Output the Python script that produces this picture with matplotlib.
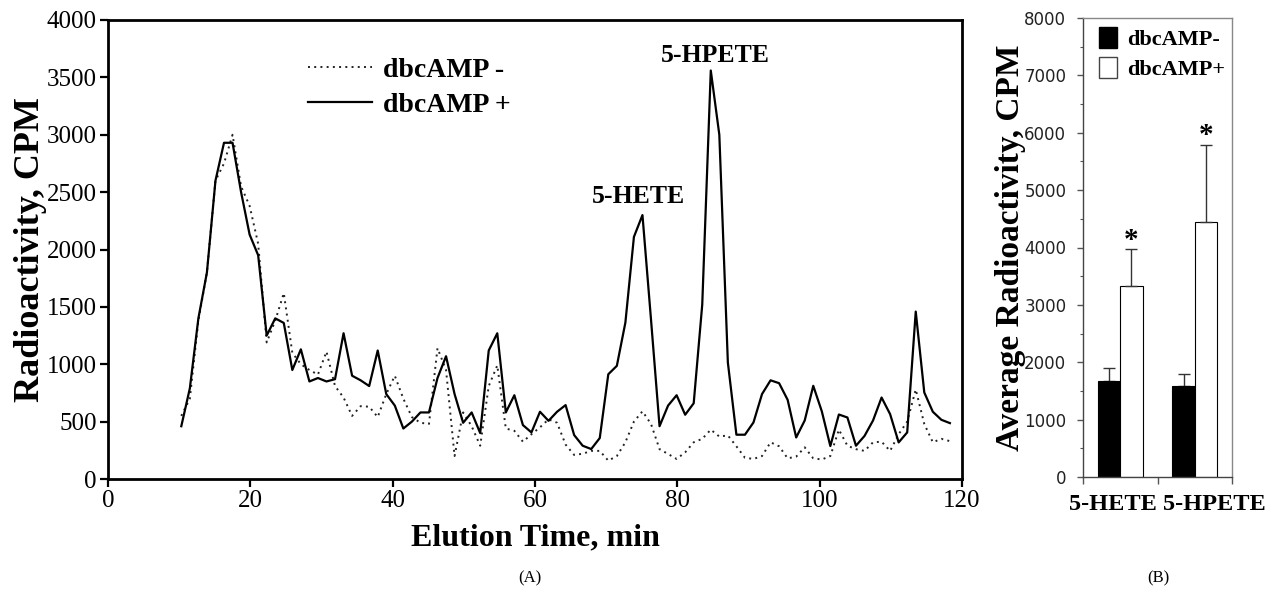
import matplotlib
matplotlib.use("Agg")
import matplotlib.pyplot as plt
from matplotlib.patches import Patch

# ---------------- data ----------------
elution_time = [10.3, 11.5, 12.7, 13.9, 15.1, 16.3, 17.5, 18.7, 19.9, 21.1,
                22.3, 23.5, 24.7, 25.9, 27.1, 28.3, 29.5, 30.7, 31.9, 33.1,
                34.3, 35.5, 36.7, 37.9, 39.1, 40.3, 41.5, 42.7, 43.9, 45.1,
                46.3, 47.5, 48.7, 49.9, 51.1, 52.3, 53.5, 54.7, 55.9, 57.1,
                58.3, 59.5, 60.7, 61.9, 63.1, 64.3, 65.5, 66.7, 67.9, 69.1,
                70.3, 71.5, 72.7, 73.9, 75.1, 76.3, 77.5, 78.7, 79.9, 81.1,
                82.3, 83.5, 84.7, 85.9, 87.1, 88.3, 89.5, 90.7, 91.9, 93.1,
                94.3, 95.5, 96.7, 97.9, 99.1, 100.3, 101.5, 102.7, 103.9, 105.1,
                106.3, 107.5, 108.7, 109.9, 111.1, 112.3, 113.5, 114.7, 115.9, 117.1,
                118.3]

cpm_plus = [460, 790, 1400, 1800, 2600, 2930, 2930, 2500, 2130, 1950,
            1250, 1400, 1360, 950, 1130, 850, 880, 850, 870, 1270,
            900, 860, 810, 1120, 740, 640, 440, 500, 580, 580,
            880, 1070, 740, 490, 580, 400, 1120, 1270, 580, 730,
            470, 406, 586, 507, 586, 644, 383, 290, 261, 357,
            913, 986, 1363, 2110, 2300, 1390, 460, 640, 730, 560,
            660, 1520, 3560, 3000, 1015, 386, 386, 493, 740, 860,
            835, 690, 362, 510, 812, 590, 287, 562, 536, 290,
            375, 510, 710, 565, 319, 406, 1459, 754, 586, 516,
            487]

cpm_minus = [550, 700, 1380, 1800, 2600, 2750, 3000, 2550, 2380, 2050,
             1190, 1380, 1620, 1100, 1000, 950, 910, 1110, 810, 710,
             550, 635, 630, 540, 740, 900, 700, 540, 490, 480,
             1140, 950, 200, 580, 460, 290, 810, 990, 440, 420,
             325, 390, 450, 520, 490, 300, 210, 220, 245, 245,
             160, 200, 320, 500, 590, 480, 260, 218, 175, 232,
             320, 350, 430, 370, 380, 285, 185, 175, 200, 320,
             285, 180, 195, 276, 180, 170, 200, 430, 290, 260,
             245, 320, 325, 245, 390, 500, 780, 480, 320, 350,
             330]

bar_categories = ["5-HETE", "5-HPETE"]
avg_minus = [1680, 1580]
err_minus = [220, 220]
avg_plus = [3330, 4450]
err_plus = [640, 1340]

left_yticks = [0, 500, 1000, 1500, 2000, 2500, 3000, 3500, 4000]
left_xticks = [0, 20, 40, 60, 80, 100, 120]
right_yticks = [0, 1000, 2000, 3000, 4000, 5000, 6000, 7000, 8000]

SERIF = ["Liberation Serif", "DejaVu Serif"]

W, H = 1266, 589
fig = plt.figure(figsize=(W / 100, H / 100), dpi=100)
fig.patch.set_facecolor("white")


def ax_rect(x0, x1, ytop, ybot):
    return [x0 / W, 1 - ybot / H, (x1 - x0) / W, (ybot - ytop) / H]


# ---------------- panel A ----------------
axA = fig.add_axes(ax_rect(108, 962, 20, 479))
axA.plot(elution_time, cpm_minus, color="#222222", lw=1.4,
         linestyle=(0, (1, 2.2)), label="dbcAMP -")
axA.plot(elution_time, cpm_plus, color="black", lw=1.6, label="dbcAMP +")
axA.set_xlim(0, 120)
axA.set_ylim(0, 4000)
axA.set_xticks(left_xticks)
axA.set_yticks(left_yticks)
for sp in axA.spines.values():
    sp.set_linewidth(2.0)
axA.tick_params(axis="both", direction="out", length=6, width=1.6,
                labelsize=18, pad=2)
for lab in axA.get_xticklabels() + axA.get_yticklabels():
    lab.set_fontfamily(SERIF)
axA.set_xlabel("Elution Time, min", fontfamily=SERIF, fontweight="bold",
               fontsize=23, labelpad=8)
axA.set_ylabel("Radioactivity, CPM", fontfamily=SERIF, fontweight="bold",
               fontsize=26)
axA.yaxis.set_label_coords(-0.072, 0.5)

axA.legend(loc="upper left", bbox_to_anchor=(0.205, 0.973),
           frameon=False, handlelength=2.3, handletextpad=0.4,
           labelspacing=0.35,
           prop={"family": SERIF, "weight": "bold", "size": 20})

axA.text(74.5, 2460, "5-HETE", ha="center", va="center", fontfamily=SERIF,
         fontweight="bold", fontsize=18.5)
axA.text(85.3, 3690, "5-HPETE", ha="center", va="center", fontfamily=SERIF,
         fontweight="bold", fontsize=18.5)

fig.text(530 / W, 1 - 578 / H, "(A)", ha="center", va="center",
         fontfamily=SERIF, fontsize=12)

# ---------------- panel B ----------------
axB = fig.add_axes(ax_rect(1083, 1232, 18, 477))
xpos = [0, 1]
bw = 0.3
xb_minus = [x - bw / 2 for x in xpos]
xb_plus = [x + bw / 2 for x in xpos]
axB.bar(xb_minus, avg_minus, width=bw, color="black", edgecolor="black",
        linewidth=0.8, zorder=2)
axB.bar(xb_plus, avg_plus, width=bw, color="white", edgecolor="black",
        linewidth=0.8, zorder=2)
axB.errorbar(xb_minus, avg_minus, yerr=[[0, 0], err_minus], fmt="none",
             ecolor="#333333", elinewidth=1.0, capsize=4, capthick=1.0, zorder=1)
axB.errorbar(xb_plus, avg_plus, yerr=[[0, 0], err_plus], fmt="none",
             ecolor="#333333", elinewidth=1.0, capsize=4, capthick=1.0, zorder=3)
for xp, v, e in zip(xb_plus, avg_plus, err_plus):
    axB.text(xp, v + e - 80, "*", ha="center", va="bottom", fontfamily=SERIF,
             fontweight="bold", fontsize=21)

axB.set_xlim(-0.5, 1.5)
axB.set_ylim(0, 8000)
axB.set_yticks(right_yticks)
axB.set_yticks([500, 1500, 2500, 3500, 4500, 5500, 6500, 7500], minor=True)
axB.set_xticks([-0.5, 0.5, 1.5])
axB.set_xticklabels(["", "", ""])
axB.set_xticks([-0.1, 1.27], minor=True)
axB.set_xticklabels(bar_categories, minor=True, fontfamily=SERIF,
                    fontweight="bold", fontsize=17.5)
axB.tick_params(axis="x", which="major", direction="out", length=5,
                width=1.0, color="#555555")
axB.tick_params(axis="x", which="minor", length=0, pad=12)
axB.tick_params(axis="y", which="major", direction="out", length=4,
                width=1.0, labelsize=12, labelcolor="#222222", pad=8,
                color="#555555")
axB.tick_params(axis="y", which="minor", direction="out", length=2.5,
                width=0.8, color="#555555")
for lab in axB.get_yticklabels():
    lab.set_fontfamily("DejaVu Sans")
for name, sp in axB.spines.items():
    sp.set_linewidth(1.0)
    sp.set_color("#444444" if name in ("left", "bottom") else "#888888")
axB.set_ylabel("Average Radioactivity, CPM", fontfamily=SERIF,
               fontweight="bold", fontsize=24)
axB.yaxis.set_label_coords(-0.38, 0.5)

handlesB = [Patch(facecolor="black", edgecolor="black"),
            Patch(facecolor="white", edgecolor="#444444")]
axB.legend(handlesB, ["dbcAMP-", "dbcAMP+"], loc="upper left",
           bbox_to_anchor=(0.0, 1.015), frameon=False, handlelength=0.85,
           handleheight=1.1, handletextpad=0.45, labelspacing=0.3,
           borderaxespad=0.3,
           prop={"family": SERIF, "weight": "bold", "size": 16})

fig.text(1158 / W, 1 - 578 / H, "(B)", ha="center", va="center",
         fontfamily=SERIF, fontsize=12)

fig.savefig("out.png", dpi=100, facecolor="white")
